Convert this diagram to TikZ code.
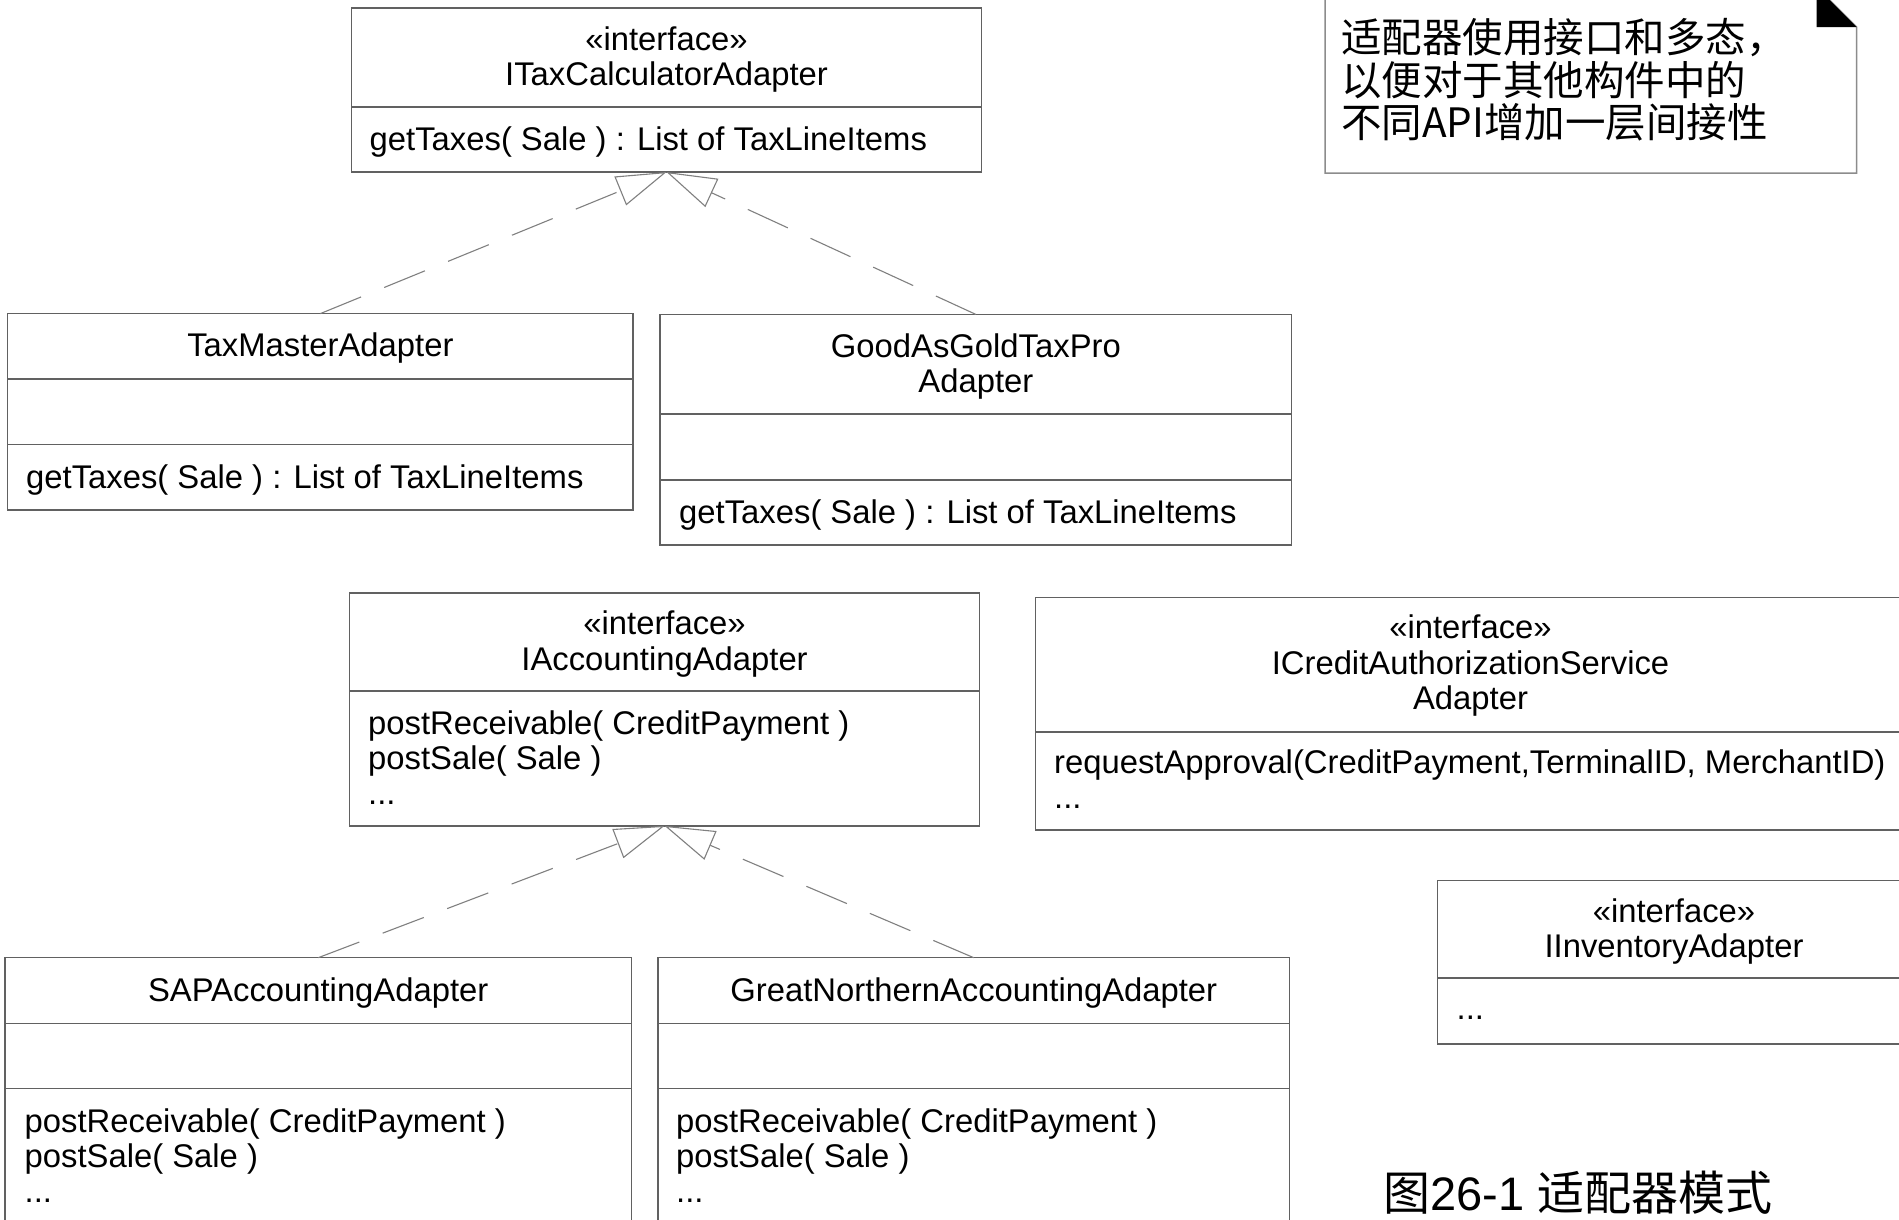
\documentclass[tikz,border=0pt]{standalone}
\usepackage{fontspec}
\setmainfont{Liberation Sans}
\newfontfamily\cjk{Noto Sans CJK SC}
\usetikzlibrary{arrows.meta}
\definecolor{boxgray}{gray}{0.38}
\definecolor{linegray}{gray}{0.5}
\definecolor{notegray}{gray}{0.55}
\newcommand\umlfont{\fontsize{32.8pt}{35.5pt}\selectfont}
\newcommand\notefont{\cjk\fontsize{40.5pt}{43pt}\selectfont}
\newcommand\capfont{\fontsize{47pt}{50pt}\selectfont}
\begin{document}
\begin{tikzpicture}[x=1pt,y=-1pt,
  classbox/.style={draw=boxgray, line width=1.5pt, inner sep=0pt, outer sep=0pt, anchor=north west},
  divider/.style={draw=boxgray, line width=1.5pt},
  title/.style={font=\umlfont, align=center, inner sep=0pt},
  member/.style={font=\umlfont, anchor=base west, inner sep=0pt},
  notetext/.style={font=\notefont, anchor=base west, inner sep=0pt},
  realizes/.style={draw=linegray, line width=1.1pt, dash pattern=on 44pt off 25pt,
    -{Triangle[open, length=50pt, width=31pt]}},
]
\useasboundingbox (0,0) rectangle (1899,1219);
\fill[white] (0,0) rectangle (1899,1219);
\clip (0,0) rectangle (1899,1219);

% ---------- tax calculator interface and its adapters ----------
\node[classbox, minimum width=630pt, minimum height=164pt] (taxif) at (351.5,8) {};
\draw[divider] (taxif.west |- 0,107) -- (taxif.east |- 0,107);
\node[title] (taxifname) at (666.5,59.5) {«interface»\\ITaxCalculatorAdapter};
\node[member] (taxifop) at (369.5,150.5) {getTaxes( Sale ) : List of TaxLineItems};

\node[classbox, minimum width=625.3pt, minimum height=196.4pt] (taxmaster) at (7.7,313.6) {};
\draw[divider] (taxmaster.west |- 0,379) -- (taxmaster.east |- 0,379);
\draw[divider] (taxmaster.west |- 0,444.6) -- (taxmaster.east |- 0,444.6);
\node[title] (taxmastername) at (320.35,348.5) {TaxMasterAdapter};
\node[member] (taxmasterop) at (26,488) {getTaxes( Sale ) : List of TaxLineItems};

\node[classbox, minimum width=631.3pt, minimum height=230.6pt] (goodasgold) at (660.2,314.4) {};
\draw[divider] (goodasgold.west |- 0,414.2) -- (goodasgold.east |- 0,414.2);
\draw[divider] (goodasgold.west |- 0,480.2) -- (goodasgold.east |- 0,480.2);
\node[title] (goodasgoldname) at (975.85,366.3) {GoodAsGoldTaxPro\\Adapter};
\node[member] (goodasgoldop) at (679,523.5) {getTaxes( Sale ) : List of TaxLineItems};

% ---------- accounting interface and its adapters ----------
\node[classbox, minimum width=630.1pt, minimum height=232.8pt] (acctif) at (349.5,593) {};
\draw[divider] (acctif.west |- 0,691) -- (acctif.east |- 0,691);
\node[title] (acctifname) at (664.55,644) {«interface»\\IAccountingAdapter};
\node[member] (acctifop1) at (368,734.5) {postReceivable( CreditPayment )};
\node[member] (acctifop2) at (368,769.5) {postSale( Sale )};
\node[member] (acctifop3) at (368,804.5) {...};

\node[classbox, minimum width=626.4pt, minimum height=300pt] (sap) at (5,957.7) {};
\draw[divider] (sap.west |- 0,1023.4) -- (sap.east |- 0,1023.4);
\draw[divider] (sap.west |- 0,1088.6) -- (sap.east |- 0,1088.6);
\node[title] (sapname) at (318.2,992.7) {SAPAccountingAdapter};
\node[member] (sapop1) at (24.5,1132) {postReceivable( CreditPayment )};
\node[member] (sapop2) at (24.5,1167) {postSale( Sale )};
\node[member] (sapop3) at (24.5,1202) {...};

\node[classbox, minimum width=631.6pt, minimum height=300pt] (greatnorthern) at (658,957.7) {};
\draw[divider] (greatnorthern.west |- 0,1023.4) -- (greatnorthern.east |- 0,1023.4);
\draw[divider] (greatnorthern.west |- 0,1088.6) -- (greatnorthern.east |- 0,1088.6);
\node[title] (greatnorthernname) at (973.8,992.7) {GreatNorthernAccountingAdapter};
\node[member] (greatnorthernop1) at (676,1132) {postReceivable( CreditPayment )};
\node[member] (greatnorthernop2) at (676,1167) {postSale( Sale )};
\node[member] (greatnorthernop3) at (676,1202) {...};

% ---------- remaining interfaces ----------
\node[classbox, minimum width=869.8pt, minimum height=232.5pt] (creditif) at (1035.6,597.5) {};
\draw[divider] (creditif.west |- 0,732) -- (creditif.east |- 0,732);
\node[title] (creditifname) at (1470.5,666) {«interface»\\ICreditAuthorizationService\\Adapter};
\node[member] (creditifop1) at (1054,773.5) {requestApproval(CreditPayment,TerminalID, MerchantID)};
\node[member] (creditifop2) at (1054,808.5) {...};

\node[classbox, minimum width=473pt, minimum height=163.7pt] (invif) at (1437.5,880.3) {};
\draw[divider] (invif.west |- 0,978.2) -- (invif.east |- 0,978.2);
\node[title] (invifname) at (1674,931.5) {«interface»\\IInventoryAdapter};
\node[member] (invifop) at (1456.5,1019.5) {...};

% ---------- realization connectors ----------
\draw[realizes] (taxmaster.north) -- (taxif.south);
\draw[realizes] (goodasgold.north) -- (taxif.south);
\draw[realizes] (sap.north) -- (acctif.south);
\draw[realizes] (greatnorthern.north) -- (acctif.south);

% ---------- note with folded corner ----------
\draw[notegray, line width=1.5pt] (1325,-13) -- (1816.6,-13) -- (1856.6,27)
  -- (1856.6,173) -- (1325,173) -- cycle;
\fill[black] (1816.6,-13) -- (1816.6,27) -- (1856.6,27) -- cycle;
\node[notetext] (note1) at (1341,52) {适配器使用接口和多态，};
\node[notetext] (note2) at (1341,95) {以便对于其他构件中的};
\node[notetext] (note3) at (1341,137) {不同API增加一层间接性};

% ---------- caption ----------
\node[anchor=base west, inner sep=0pt, font=\capfont] (caption) at (1383,1210)
  {{\cjk 图}26-1 {\cjk 适配器模式}};
\end{tikzpicture}
\end{document}
